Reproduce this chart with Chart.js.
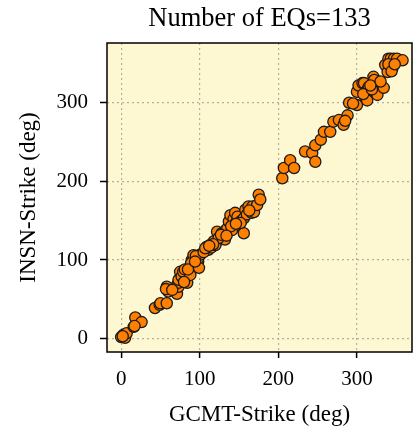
<!DOCTYPE html>
<html>
<head>
<meta charset="utf-8">
<script src="https://cdn.jsdelivr.net/npm/chart.js@4"></script>
<style>
  html, body { margin: 0; padding: 0; background: #fff; }
  #wrap { width: 414px; height: 433px; }
</style>
</head>
<body>
<div id="wrap"><canvas id="grafico" width="414" height="433"></canvas></div>
<script>
// strike angles (deg): GCMT catalogue vs INSN solutions
const gcmtStrike = [
  0, 3, 5, 7, 2, 16, 18, 26, 17,
  43, 49, 50, 58, 58, 60, 57,
  71, 71, 73, 73, 73, 75, 77, 79, 81, 84, 88, 90, 92, 89, 98, 99, 98, 101, 95, 85, 80,
  109, 111, 113, 115, 118, 120, 120, 122, 126, 128, 130, 132, 133, 135, 137, 139, 141, 143, 145, 147,
  148, 150, 153, 156, 156, 158, 160, 162, 166, 167, 169, 173, 175, 177, 124, 117, 105, 140, 152, 107,
  205, 207, 215, 220, 234, 243, 247, 247, 254, 258, 266,
  270, 277, 283, 288, 290, 300, 300, 302, 295, 285,
  307, 309, 311, 313, 313, 315, 321, 321, 322, 325, 326, 334, 336, 339, 340, 343, 345, 343, 347, 351,
  358, 340, 344, 308, 319,
  112, 127, 134, 146, 163, 330, 348, 317, 94, 65
];
const insnStrike = [
  2, 5, 1, 7, 3, 15, 27, 21, 16,
  39, 43, 45, 45, 66, 60, 63,
  57, 68, 66, 71, 75, 85, 79, 85, 88, 71, 81, 100, 106, 96, 98, 90, 102, 107, 105, 88, 72,
  117, 113, 119, 116, 124, 121, 119, 136, 128, 134, 130, 126, 138, 140, 149, 157, 138, 152, 160, 149,
  155, 145, 150, 153, 134, 164, 158, 168, 160, 168, 161, 170, 183, 177, 128, 120, 110, 143, 147, 115,
  204, 217, 227, 217, 238, 236, 246, 225, 253, 263, 263,
  276, 278, 272, 284, 300, 297, 314, 322, 299, 277,
  325, 325, 306, 316, 303, 320, 333, 326, 329, 312, 310, 319, 348, 339, 356, 352, 344, 356, 356, 356,
  354, 349, 340, 311, 317,
  118, 132, 131, 146, 163, 327, 349, 322, 98, 62
];
const tickValues = [0, 100, 200, 300];
const tituloTexto = 'Number of EQs=133';

const puntos = gcmtStrike.map((x, i) => ({ x: x, y: insnStrike[i] }));
const serif = "'Liberation Serif', 'Times New Roman', serif";

// yellow panel behind the plot, black frame and title centred over the plot
const marco = {
  id: 'marco',
  beforeDraw(chart) {
    const a = chart.chartArea, c = chart.ctx;
    c.save();
    c.fillStyle = '#fdf8d2';
    c.fillRect(a.left, a.top, a.right - a.left, a.bottom - a.top);
    c.restore();
  },
  afterDraw(chart) {
    const a = chart.chartArea, c = chart.ctx;
    c.save();
    c.strokeStyle = '#000';
    c.lineWidth = 1.5;
    c.strokeRect(a.left, a.top, a.right - a.left, a.bottom - a.top);
    c.fillStyle = '#000';
    c.font = '26.5px ' + serif;
    c.textAlign = 'center';
    c.textBaseline = 'alphabetic';
    c.fillText(tituloTexto, (a.left + a.right) / 2, 26);
    c.restore();
  }
};

const ctx = document.getElementById('grafico').getContext('2d');
new Chart(ctx, {
  type: 'scatter',
  data: {
    datasets: [{
      data: puntos,
      backgroundColor: 'rgb(255,128,0)',
      borderColor: '#1a1a1a',
      borderWidth: 1.3,
      pointRadius: 5.6,
      pointHoverRadius: 5.6
    }]
  },
  options: {
    responsive: false,
    animation: false,
    layout: { autoPadding: false, padding: { left: 0, right: 2, top: 43, bottom: 0 } },
    plugins: {
      legend: { display: false },
      tooltip: { enabled: false },
      title: { display: false }
    },
    scales: {
      x: {
        type: 'linear',
        min: -18, max: 370,
        afterBuildTicks: s => { s.ticks = tickValues.map(v => ({ value: v })); },
        afterFit: s => { s.height = 81; s.paddingLeft = 0; s.paddingRight = 0; },
        grid: {
          color: '#b3b0a0',
          lineWidth: 1.2,
          tickLength: 6,
          tickColor: '#000',
          tickWidth: 1.5,
          tickBorderDash: [1, 0]
        },
        border: { display: false, dash: [2, 3] },
        ticks: { color: '#000', padding: 9, font: { family: serif, size: 21 } },
        title: {
          display: true,
          text: 'GCMT-Strike (deg)',
          color: '#000',
          font: { family: serif, size: 23 },
          padding: { top: 6, bottom: 4 }
        }
      },
      y: {
        type: 'linear',
        min: -17, max: 376,
        afterBuildTicks: s => { s.ticks = tickValues.map(v => ({ value: v })); },
        afterFit: s => { s.width = 107; s.paddingTop = 0; s.paddingBottom = 0; },
        grid: {
          color: '#b3b0a0',
          lineWidth: 1.2,
          tickLength: 7,
          tickColor: '#000',
          tickWidth: 1.5,
          tickBorderDash: [1, 0]
        },
        border: { display: false, dash: [2, 3] },
        ticks: { color: '#000', padding: 12, font: { family: serif, size: 21 } },
        title: {
          display: true,
          text: 'INSN-Strike (deg)',
          color: '#000',
          font: { family: serif, size: 23 },
          padding: { top: 15, bottom: 0 }
        }
      }
    }
  },
  plugins: [marco]
});
</script>
</body>
</html>
